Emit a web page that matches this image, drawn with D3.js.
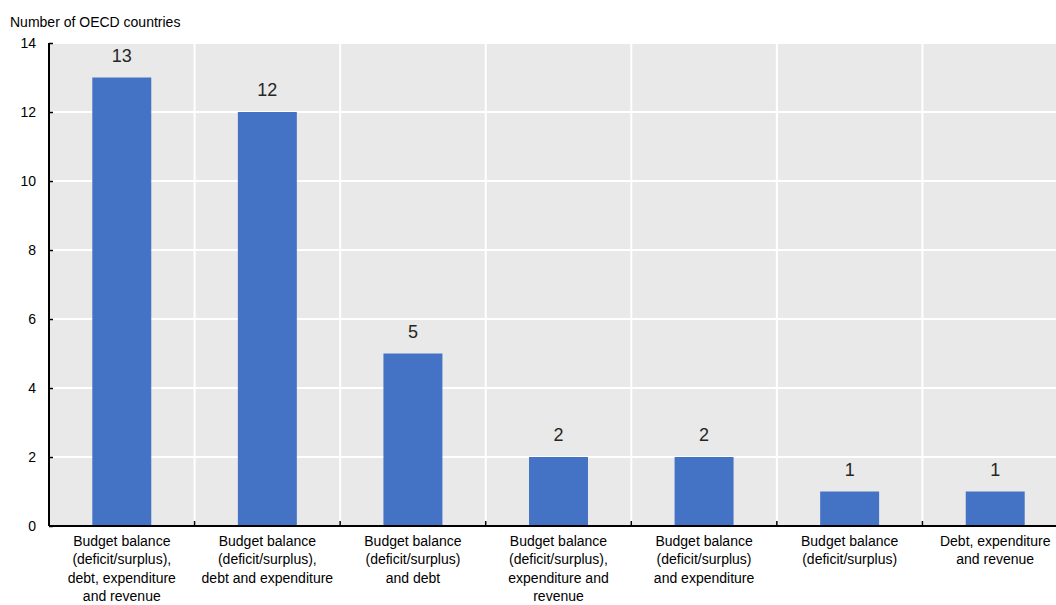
<!DOCTYPE html>
<html>
<head>
<meta charset="utf-8">
<script src="https://cdn.jsdelivr.net/npm/d3@7"></script>
<style>
  html, body { margin: 0; padding: 0; background: #fff; }
  svg { display: block; }
  text { font-family: "Liberation Sans", Arial, sans-serif; }
</style>
</head>
<body>
<svg id="chart" width="1056" height="605"></svg>
<script>
// Combinations of fiscal rules and how many OECD countries use each
const categories = [
  ["Budget balance", "(deficit/surplus),", "debt, expenditure", "and revenue"],
  ["Budget balance", "(deficit/surplus),", "debt and expenditure"],
  ["Budget balance", "(deficit/surplus)", "and debt"],
  ["Budget balance", "(deficit/surplus),", "expenditure and", "revenue"],
  ["Budget balance", "(deficit/surplus)", "and expenditure"],
  ["Budget balance", "(deficit/surplus)"],
  ["Debt, expenditure", "and revenue"]
];
const values = [13, 12, 5, 2, 2, 1, 1];
const yTicks = [0, 2, 4, 6, 8, 10, 12, 14];
const yTitle = "Number of OECD countries";

const svg = d3.select("#chart");
const plotLeft = 49, plotRight = 1068, plotTop = 43, plotBottom = 526;

const x = d3.scaleBand()
  .domain(d3.range(values.length))
  .range([plotLeft, plotRight])
  .paddingInner(0)
  .paddingOuter(0);

const y = d3.scaleLinear().domain([0, 14]).range([plotBottom, plotTop]);

const barW = x.bandwidth() * 0.405;

// panel background
svg.append("rect")
  .attr("x", plotLeft).attr("y", plotTop)
  .attr("width", plotRight - plotLeft).attr("height", plotBottom - plotTop)
  .attr("fill", "#e9e9e9");

// horizontal gridlines
svg.append("g").selectAll("line")
  .data(yTicks.filter(d => d > 0))
  .join("line")
  .attr("x1", plotLeft).attr("x2", plotRight)
  .attr("y1", d => y(d)).attr("y2", d => y(d))
  .attr("stroke", "#fff").attr("stroke-width", 2);

// vertical separators between categories
svg.append("g").selectAll("line")
  .data(d3.range(1, values.length))
  .join("line")
  .attr("x1", d => x(d)).attr("x2", d => x(d))
  .attr("y1", plotTop).attr("y2", plotBottom)
  .attr("stroke", "#fff").attr("stroke-width", 2);

// bars
svg.append("g").selectAll("rect")
  .data(values)
  .join("rect")
  .attr("x", (d, i) => x(i) + (x.bandwidth() - barW) / 2)
  .attr("width", barW)
  .attr("y", d => y(d))
  .attr("height", d => y(0) - y(d))
  .attr("fill", "#4472c4");

// value labels
svg.append("g").selectAll("text")
  .data(values)
  .join("text")
  .attr("x", (d, i) => x(i) + x.bandwidth() / 2)
  .attr("y", d => y(d) - 16)
  .attr("text-anchor", "middle")
  .attr("font-family", "'Open Sans', 'Noto Sans', sans-serif")
  .attr("font-size", 18)
  .attr("fill", "#262626")
  .text(d => d);

// y axis
const yAxis = d3.axisRight(y).tickValues(yTicks).tickSize(4).tickFormat("");
const gy = svg.append("g").attr("transform", `translate(${plotLeft},0)`).call(yAxis);
gy.select(".domain").remove();
gy.selectAll(".tick line").attr("stroke", "#000").attr("stroke-width", 1.5);
svg.append("line")
  .attr("x1", plotLeft).attr("x2", plotLeft).attr("y1", plotTop).attr("y2", plotBottom)
  .attr("stroke", "#000").attr("stroke-width", 2);

svg.append("g").selectAll("text")
  .data(yTicks)
  .join("text")
  .attr("x", 36)
  .attr("y", d => y(d))
  .attr("dy", "0.35em")
  .attr("text-anchor", "end")
  .attr("font-size", 14)
  .attr("fill", "#000")
  .text(d => d);

// x axis
svg.append("line")
  .attr("x1", plotLeft).attr("x2", plotRight).attr("y1", plotBottom).attr("y2", plotBottom)
  .attr("stroke", "#000").attr("stroke-width", 2);
svg.append("g").selectAll("line")
  .data(d3.range(1, values.length))
  .join("line")
  .attr("x1", d => x(d)).attr("x2", d => x(d))
  .attr("y1", plotBottom).attr("y2", plotBottom - 5)
  .attr("stroke", "#000").attr("stroke-width", 1.5);

const xl = svg.append("g").selectAll("text")
  .data(categories)
  .join("text")
  .attr("text-anchor", "middle")
  .attr("font-size", 14)
  .attr("fill", "#000")
  .attr("transform", (d, i) => `translate(${x(i) + x.bandwidth() / 2},546)`);
xl.selectAll("tspan")
  .data(d => d)
  .join("tspan")
  .attr("x", 0)
  .attr("y", (d, j) => j * 18.3)
  .text(d => d);

// axis title
svg.append("text")
  .attr("x", 10).attr("y", 27)
  .attr("font-size", 14)
  .attr("fill", "#000")
  .text(yTitle);
</script>
</body>
</html>
